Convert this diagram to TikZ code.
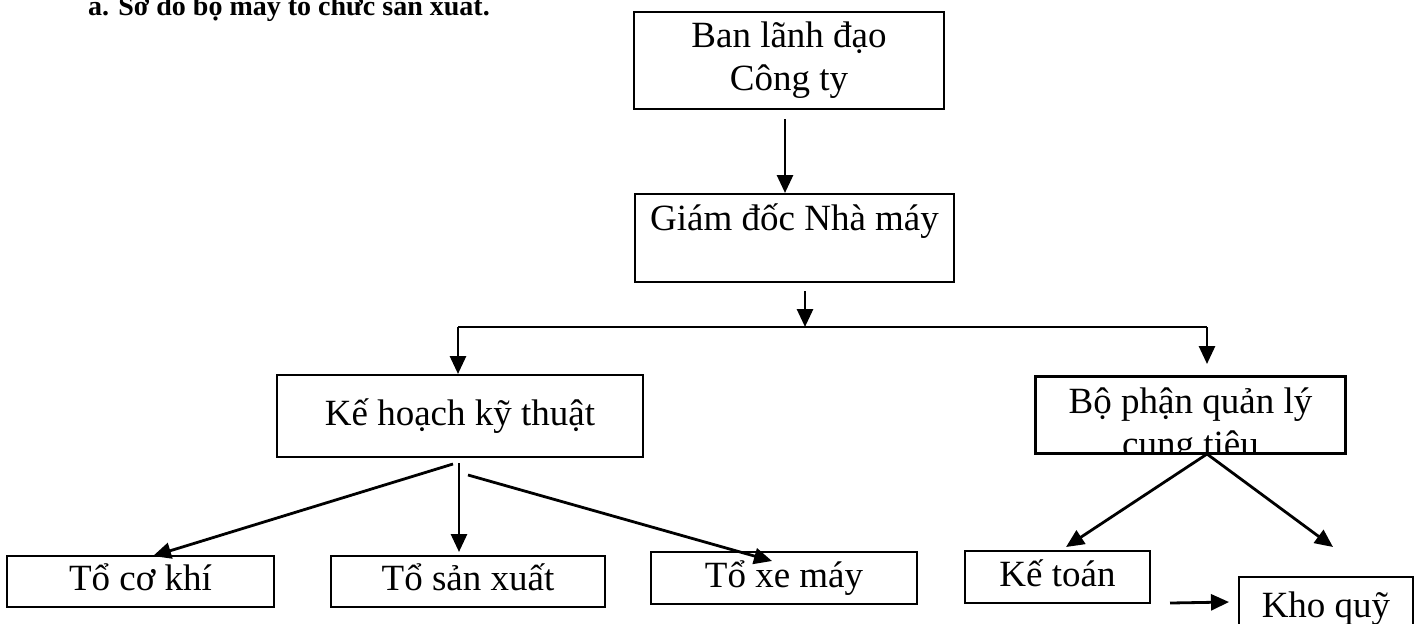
\documentclass[tikz,border=0pt]{standalone}
\usepackage{fontspec}
\setmainfont{Liberation Serif}
\usetikzlibrary{arrows.meta}
\tikzset{
every picture/.style={
line width=1pt
}}

\begin{document}
\begin{tikzpicture}[x=0.5pt, y=-0.5pt,
block/.style = {rectangle, draw=black, align=center, inner sep=0pt,
  font=\fontsize{18.5pt}{21.5pt}\selectfont},
cell/.style = {block, text height=13pt, text depth=4pt},
arr/.style = {line width=1.4pt, -{Triangle[length=9pt, width=8pt]}}]

\useasboundingbox (0,0) rectangle (1419,623);

\node[anchor=base west, inner sep=0pt, font=\fontsize{14pt}{16pt}\bfseries\selectfont] (title) at (87,15) {a. Sơ đồ bộ máy tổ chức sản xuất.};

\node[block, minimum width=155pt, minimum height=48.5pt] (ban) at (789,60.5) {Ban lãnh đạo\\Công ty};
\node[block, minimum width=159.5pt, minimum height=44pt, text height=12pt, text depth=20pt] (gd) at (794.5,238) {Giám đốc Nhà máy};
\node[cell, minimum width=183pt, minimum height=41pt] (kh) at (460,416) {Kế hoạch kỹ thuật};
\node[block, minimum width=154.5pt, minimum height=38pt] (bp) at (1190.5,415) {};
\begin{scope}
\clip (bp.south west) rectangle (bp.north east);
\node[block, draw=none] (bptext) at (1190.5,426) {Bộ phận quản lý\\cung tiêu};
\end{scope}
\draw (bp.south west) rectangle (bp.north east);

\node[cell, minimum width=133.5pt, minimum height=25.5pt] (to1) at (140.5,581.5) {Tổ cơ khí};
\node[cell, minimum width=137pt, minimum height=25.5pt] (to2) at (468,581.5) {Tổ sản xuất};
\node[cell, minimum width=133pt, minimum height=26pt] (to3) at (784,578) {Tổ xe máy};
\node[cell, minimum width=92.5pt, minimum height=26pt] (kt) at (1057.5,577) {Kế toán};
\node[cell, minimum width=87pt, minimum height=31pt] (kq) at (1326,608) {Kho quỹ};

% duong ngang chia nhanh
\coordinate (busL) at (458,327);
\coordinate (busM) at (805,327);
\coordinate (busR) at (1207,327);
\draw (busL) -- (busR);

\draw[arr] ([xshift=-2pt,yshift=-4.5pt]ban.south) -- ([xshift=-4.75pt]gd.north);
\draw[arr] ([xshift=5.25pt,yshift=-4pt]gd.south) -- (busM);
\draw[arr] (busL) -- ([xshift=-1pt]kh.north);
\draw[arr] (busR) -- ([xshift=8.25pt,yshift=6pt]bp.north);

\draw[arr] ([xshift=-3.5pt,yshift=-3pt]kh.south) -- ([xshift=6.25pt,yshift=-0.5pt]to1.north);
\draw[arr] ([xshift=-0.5pt,yshift=-2.5pt]kh.south) -- ([xshift=-4.5pt,yshift=1.5pt]to2.north);
\draw[arr] ([xshift=4pt,yshift=-8.5pt]kh.south) -- ([xshift=-6pt,yshift=-5pt]to3.north);

\draw[arr] ([xshift=8.25pt]bp.south) -- ([xshift=4.25pt,yshift=1.5pt]kt.north);
\draw[arr] ([xshift=8.25pt]bp.south) -- ([xshift=3.5pt,yshift=14.5pt]kq.north);
\draw[arr] ([xshift=9.5pt,yshift=0.5pt]kt.south east) -- ([xshift=-4.5pt,yshift=3pt]kq.west);
\end{tikzpicture}
\end{document}
